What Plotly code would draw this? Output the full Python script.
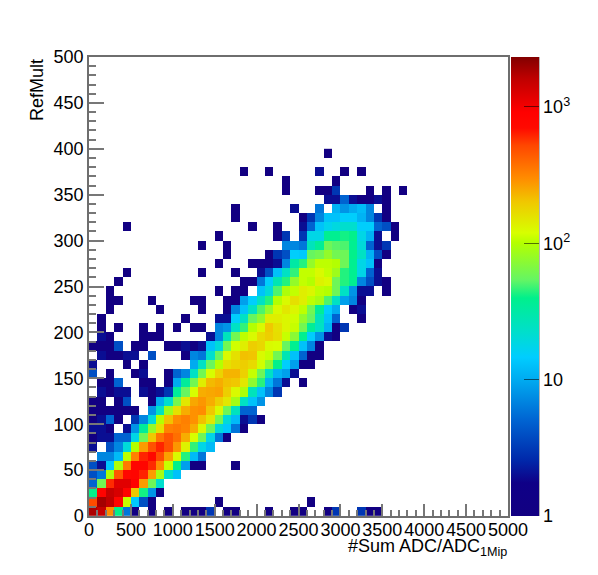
import math
import plotly.graph_objects as go

# bin definition
x_start, x_bin, n_x = 50, 100, 50
y_start, y_bin = 5, 10
z_max = 2325.0

# counts per y bin (RefMult 0-10, 10-20, ...), one entry per 100 ADC bin; 0 = empty
row_00 = [1800,1500,300,40,6,1,0,1,0,1,0,1,1,1,3,0,1,1,0,0,0,1,0,0,1,1,0,0,1,3,0,0,3,1,1]
row_01 = [500,1900,1600,800,110,14,4,1,0,0,0,0,0,0,0,1,0,0,0,0,0,0,0,0,0,0,1]
row_02 = [40,850,1500,1300,850,200,42,8,1]
row_03 = [5,60,600,1200,1200,900,270,58,22]
row_04 = [4,6,95,450,750,800,620,270,90,22,13]
row_05 = [4,2,14,95,350,800,800,600,300,110,40,9,1,1,0,0,0,1]
row_06 = [0,7,7,12,105,330,620,750,500,260,125,44,12,6]
row_07 = [2,0,4,7,20,100,270,480,620,480,280,135,46,18,12]
row_08 = [1,2,2,5,5,18,58,200,360,470,380,240,120,58,18,6,1]
row_09 = [2,2,1,0,2,8,35,78,160,330,350,320,240,125,58,20,14,6,1]
row_10 = [1,2,5,1,0,3,7,20,100,210,300,330,290,210,150,60,20,12,2,3,1]
row_11 = [1,1,1,1,1,1,0,8,24,85,160,240,290,300,200,125,58,25,5,5]
row_12 = [1,1,0,1,4,0,0,1,10,22,62,150,250,280,240,190,150,88,24,13,8]
row_13 = [0,2,1,2,2,0,2,1,2,3,35,55,120,240,250,260,190,125,95,26,13,7,3]
row_14 = [0,1,1,5,0,0,1,1,0,1,10,35,60,140,220,240,210,200,150,75,45,11,6,2,0,1]
row_15 = [4,0,1,0,0,1,2,0,0,1,5,7,24,60,120,180,230,230,185,110,58,24,11,9,2]
row_16 = [2,0,0,0,1,0,1,0,0,0,0,0,10,24,56,100,160,180,190,170,115,75,40,15,9,1,1]
row_17 = [0,2,1,1,2,2,0,4,0,0,0,1,7,6,22,55,125,160,210,205,125,110,60,28,13,5,1,1]
row_18 = [1,1,1,4,0,1,1,0,0,1,1,2,1,2,13,20,60,115,140,190,175,125,120,55,38,13,7,1]
row_19 = [0,2,1,0,0,0,1,1,1,0,0,0,0,0,2,7,26,60,105,125,170,190,165,110,72,38,15,8,2,1]
row_20 = [0,1,0,1,0,0,1,0,1,0,1,0,1,1,0,7,8,24,46,100,125,200,160,130,110,60,36,24,11,1,3]
row_21 = [0,1,0,0,0,0,0,0,0,0,0,1,0,0,0,2,2,15,24,55,75,140,140,130,115,78,55,26,13,5,0,0,1]
row_22 = [0,0,1,0,0,0,0,0,1,0,0,0,0,1,0,0,1,7,13,24,50,78,125,150,130,105,60,36,15,10,0,1,2]
row_23 = [0,0,1,1,0,0,0,1,0,0,0,0,1,1,0,0,1,1,9,15,24,44,100,125,160,140,105,90,50,24,9,7,1]
row_24 = [0,0,1,0,0,0,0,0,0,0,0,0,0,0,0,1,0,1,1,0,13,20,50,95,108,140,130,105,100,58,24,8,2,2,0,1]
row_25 = [0,0,0,1,0,0,0,0,0,0,0,0,0,0,0,0,0,0,1,1,6,15,28,44,78,108,100,135,125,58,44,38,7,4,2,1]
row_26 = [0,0,0,0,1,0,0,0,0,0,0,0,0,1,0,0,0,1,0,0,2,4,13,24,46,108,108,125,108,85,44,38,18,5,2]
row_27 = [0,0,0,0,0,0,0,0,0,0,0,0,0,0,0,1,0,0,0,1,1,1,2,7,32,44,78,105,105,100,58,38,18,13,1]
row_28 = [0,0,0,0,0,0,0,0,0,0,0,0,0,0,0,0,1,0,0,0,0,1,3,4,15,14,55,60,78,60,58,40,24,11,4,1]
row_29 = [0,0,0,0,0,0,0,0,0,0,0,0,0,1,0,0,1,0,0,0,0,0,0,7,7,6,26,36,58,52,50,38,20,5,2,3]
row_30 = [0,0,0,0,0,0,0,0,0,0,0,0,0,0,0,1,0,0,0,0,0,0,1,3,0,3,18,18,38,38,42,40,18,11,2,0,1]
row_31 = [0,0,0,0,1,0,0,0,0,0,0,0,0,0,0,0,0,0,0,1,0,0,1,0,0,2,5,13,17,19,22,22,15,15,5,4,1]
row_32 = [0,0,0,0,0,0,0,0,0,0,0,0,0,0,0,0,0,1,0,0,0,0,0,0,0,1,3,7,13,13,15,15,11,7,3,1]
row_33 = [0,0,0,0,0,0,0,0,0,0,0,0,0,0,0,0,0,1,0,0,0,0,0,0,2,0,0,6,0,11,8,10,12,7,0,1]
row_34 = [0,0,0,0,0,0,0,0,0,0,0,0,0,0,0,0,0,0,0,0,0,0,0,0,0,0,0,0,2,2,5,2,1,1,2,1]
row_35 = [0,0,0,0,0,0,0,0,0,0,0,0,0,0,0,0,0,0,0,0,0,0,0,1,0,0,0,1,1,3,0,0,0,1,0,1,0,1]
row_36 = [0,0,0,0,0,0,0,0,0,0,0,0,0,0,0,0,0,0,0,0,0,0,0,1,0,0,0,0,0,1]
row_37 = [0,0,0,0,0,0,0,0,0,0,0,0,0,0,0,0,0,0,1,0,0,1,0,0,0,0,0,2,0,0,1,0,1]
row_38 = []
row_39 = [0,0,0,0,0,0,0,0,0,0,0,0,0,0,0,0,0,0,0,0,0,0,0,0,0,0,0,0,1]

rows = [row_00,row_01,row_02,row_03,row_04,row_05,row_06,row_07,row_08,row_09,
        row_10,row_11,row_12,row_13,row_14,row_15,row_16,row_17,row_18,row_19,
        row_20,row_21,row_22,row_23,row_24,row_25,row_26,row_27,row_28,row_29,
        row_30,row_31,row_32,row_33,row_34,row_35,row_36,row_37,row_38,row_39]

z = [[math.log10(v) if v > 0 else None for v in r] + [None] * (n_x - len(r)) for r in rows]

palette = [
    (0.000, (18, 0, 130)), (0.072, (15, 0, 135)), (0.122, (0, 40, 170)),
    (0.209, (0, 100, 210)), (0.296, (0, 170, 240)), (0.346, (0, 205, 255)),
    (0.399, (0, 222, 205)), (0.475, (0, 240, 140)), (0.514, (100, 245, 100)),
    (0.595, (180, 255, 0)), (0.617, (215, 255, 0)), (0.684, (240, 200, 0)),
    (0.736, (255, 140, 0)), (0.808, (255, 70, 0)), (0.845, (255, 10, 0)),
    (0.880, (255, 0, 0)), (0.954, (190, 0, 0)), (1.000, (130, 0, 0)),
]
colorscale = [[t, f"rgb{c}"] for t, c in palette]

FONT = "Liberation Sans, Arial, Helvetica, sans-serif"
log_max = math.log10(z_max)
CB_X = 1.0072
CB_W = 28 / 419

fig = go.Figure(go.Heatmap(
    z=z, x0=x_start, dx=x_bin, y0=y_start, dy=y_bin,
    zmin=0, zmax=log_max, colorscale=colorscale, hoverongaps=False,
    colorbar=dict(
        x=CB_X, xanchor="left", xpad=0, y=0, yanchor="bottom", ypad=0,
        len=1, thickness=28, outlinewidth=0,
        tickmode="array", tickvals=[0, 1, 2, 3],
        ticktext=["1", "10", "10<sup>2</sup>", "10<sup>3</sup>"],
        ticks="inside", ticklen=15, tickwidth=1, tickcolor="rgba(0,0,0,0.55)",
        tickfont=dict(family=FONT, size=18, color="black"),
    ),
))

axis_common = dict(
    showgrid=False, zeroline=False, mirror=True, showline=True,
    linecolor="#6e6e6e", linewidth=1.5, ticks="inside", tickcolor="#777777",
    tickwidth=1.5, tickfont=dict(family=FONT, size=18, color="black"),
)
fig.update_xaxes(range=[0, 5000], tickmode="linear", tick0=0, dtick=500, ticklen=12,
                 ticklabelstandoff=-3, tickangle=0,
                 minor=dict(dtick=100, tick0=0, ticks="inside", ticklen=6,
                            tickcolor="#777777", tickwidth=1.5), **axis_common)
fig.update_yaxes(range=[0, 500], tickmode="linear", tick0=0, dtick=50, ticklen=15,
                 minor=dict(dtick=10, tick0=0, ticks="inside", ticklen=7,
                            tickcolor="#777777", tickwidth=1.5), **axis_common)

# minor colour-bar ticks and its right edge, placed on the log scale
shapes = [dict(type="line", xref="paper", yref="paper", x0=CB_X + CB_W, x1=CB_X + CB_W,
               y0=0, y1=1, line=dict(color="#6e6e6e", width=1))]
for decade in range(0, 4):
    for m in range(2, 10):
        pos = (decade + math.log10(m)) / log_max
        if pos <= 1:
            shapes.append(dict(type="line", xref="paper", yref="paper",
                               x0=CB_X + CB_W - 7 / 419, x1=CB_X + CB_W, y0=pos, y1=pos,
                               line=dict(color="rgba(0,0,0,0.55)", width=1)))

fig.update_layout(
    width=590, height=567, autosize=False,
    margin=dict(l=81, r=90, t=49, b=59),
    paper_bgcolor="white", plot_bgcolor="white", shapes=shapes,
    annotations=[
        dict(text="#Sum ADC/ADC<sub>1Mip</sub>", xref="paper", yref="paper",
             x=1.002, y=-0.039, xanchor="right", yanchor="top", showarrow=False,
             font=dict(family=FONT, size=18, color="black")),
        dict(text="RefMult", xref="paper", yref="paper", x=-52 / 419, y=1,
             xanchor="center", yanchor="top", textangle=-90, showarrow=False,
             font=dict(family=FONT, size=18, color="black")),
    ],
)
fig.write_html("out.html", config={"displayModeBar": False})
